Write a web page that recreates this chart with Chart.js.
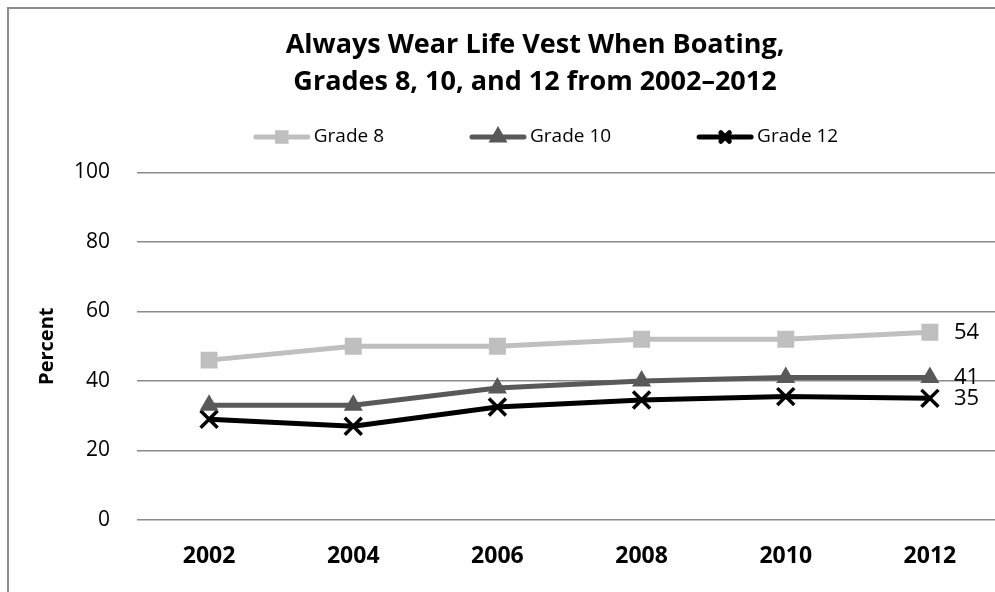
<!DOCTYPE html>
<html>
<head>
<meta charset="utf-8">
<script src="https://cdn.jsdelivr.net/npm/chart.js@4.4.0/dist/chart.umd.min.js"></script>
<style>
  html, body { margin: 0; padding: 0; background: #fff; overflow: hidden; }
  #frame { position: absolute; left: 7px; top: 7px; width: 1200px; height: 1200px;
           border-left: 2px solid #8c8c8c; border-top: 2px solid #8c8c8c; }
  #wrap { position: absolute; left: 10px; top: 10px; width: 1050px; height: 582px; }
</style>
</head>
<body>
<div id="frame"></div>
<div id="wrap"><canvas id="vestChart"></canvas></div>
<script>
// Data van de grafiek
var years = ["2002", "2004", "2006", "2008", "2010", "2012"];
var grade8 = [46, 50, 50, 52, 52, 54];
var grade10 = [33, 33, 38, 40, 41, 41];
var grade12 = [29, 27, 32.5, 34.5, 35.5, 35];
var yTicks = [0, 20, 40, 60, 80, 100];
var titleLines = ["Always Wear Life Vest When Boating,", "Grades 8, 10, and 12 from 2002\u20132012"];

var FONT = "'Open Sans', Lato, sans-serif";

// Legenda zelf tekenen: lijntje met markering in het midden, dan de tekst
var legendPlugin = {
    id: "lineLegend",
    afterDraw: function (chart) {
        var ctx = chart.ctx;
        var sets = chart.data.datasets;
        var sampleW = 56, textGap = 4, itemGap = 86, y = 127;
        ctx.save();
        ctx.font = "19px " + FONT;
        var total = 0;
        sets.forEach(function (ds, i) {
            total += sampleW + textGap + ctx.measureText(ds.label).width;
            if (i < sets.length - 1) total += itemGap;
        });
        var x = 536 - total / 2;
        sets.forEach(function (ds) {
            ctx.strokeStyle = ds.borderColor;
            ctx.lineWidth = 5;
            ctx.lineCap = "round";
            ctx.beginPath();
            ctx.moveTo(x + 2, y);
            ctx.lineTo(x + sampleW - 2, y);
            ctx.stroke();
            Chart.helpers.drawPoint(ctx, {
                pointStyle: ds.pointStyle, radius: 6, borderWidth: 3
            }, x + sampleW / 2, y);
            ctx.fillStyle = ds.borderColor;
            if (ds.pointStyle !== "crossRot") ctx.fill();
            ctx.fillStyle = "#000";
            ctx.textBaseline = "middle";
            ctx.textAlign = "left";
            ctx.fillText(ds.label, x + sampleW + textGap, y);
            x += sampleW + textGap + ctx.measureText(ds.label).width + itemGap;
        });
        ctx.restore();
    }
};

// Waarde bij het laatste punt van elke lijn
var endLabels = {
    id: "endLabels",
    afterDatasetsDraw: function (chart) {
        var ctx = chart.ctx;
        ctx.save();
        ctx.font = "22px " + FONT;
        ctx.fillStyle = "#000";
        ctx.textAlign = "left";
        ctx.textBaseline = "middle";
        chart.data.datasets.forEach(function (ds, i) {
            var meta = chart.getDatasetMeta(i);
            var last = meta.data[meta.data.length - 1];
            ctx.fillText(Math.round(ds.data[ds.data.length - 1]), last.x + 24, last.y);
        });
        ctx.restore();
    }
};

var ctx = document.getElementById("vestChart").getContext("2d");
var myChart = new Chart(ctx, {
    type: "line",
    data: {
        labels: years,
        datasets: [{
            label: "Grade 8",
            data: grade8,
            borderColor: "#bfbfbf",
            backgroundColor: "#bfbfbf",
            borderWidth: 5,
            pointStyle: "rect",
            pointRadius: 12,
            pointBorderWidth: 0,
            pointBackgroundColor: "#bfbfbf"
        }, {
            label: "Grade 10",
            data: grade10,
            borderColor: "#595959",
            backgroundColor: "#595959",
            borderWidth: 5,
            pointStyle: "triangle",
            pointRadius: 11,
            pointBorderWidth: 0,
            pointBackgroundColor: "#595959"
        }, {
            label: "Grade 12",
            data: grade12,
            borderColor: "#000000",
            backgroundColor: "#000000",
            borderWidth: 5,
            pointStyle: "crossRot",
            pointRadius: 12,
            pointBorderWidth: 3.5,
            pointBorderColor: "#000000"
        }]
    },
    options: {
        responsive: true,
        maintainAspectRatio: false,
        animation: false,
        layout: { padding: 0 },
        plugins: {
            legend: { display: false },
            tooltip: { enabled: false },
            title: {
                display: true,
                text: titleLines,
                color: "#000",
                font: { family: FONT, size: 27, weight: "bold", lineHeight: 1.36 },
                padding: { top: 17, bottom: 72 }
            }
        },
        scales: {
            x: {
                offset: true,
                grid: { display: false, drawTicks: false },
                border: { display: false },
                ticks: {
                    color: "#000",
                    padding: 23,
                    font: { family: FONT, size: 23, weight: "bold" }
                },
                afterFit: function (scale) { scale.height = 72; }
            },
            y: {
                min: 0,
                max: 100,
                afterBuildTicks: function (scale) {
                    scale.ticks = yTicks.map(function (v) { return { value: v }; });
                },
                grid: { color: "#8a8a8a", lineWidth: 1.5, drawTicks: false },
                border: { display: false },
                ticks: {
                    color: "#000",
                    padding: 27,
                    font: { family: FONT, size: 21 }
                },
                title: {
                    display: true,
                    text: "Percent",
                    color: "#000",
                    font: { family: FONT, size: 20, weight: "bold" },
                    padding: { top: 25, bottom: 0 }
                },
                afterFit: function (scale) { scale.width = 127; }
            },
            // Lege as rechts, alleen voor de ruimte naast het plotgebied
            yRight: {
                position: "right",
                min: 0,
                max: 100,
                grid: { display: false, drawTicks: false },
                border: { display: false },
                ticks: { display: false },
                afterFit: function (scale) { scale.width = 58; }
            }
        }
    },
    plugins: [legendPlugin, endLabels]
});
</script>
</body>
</html>
